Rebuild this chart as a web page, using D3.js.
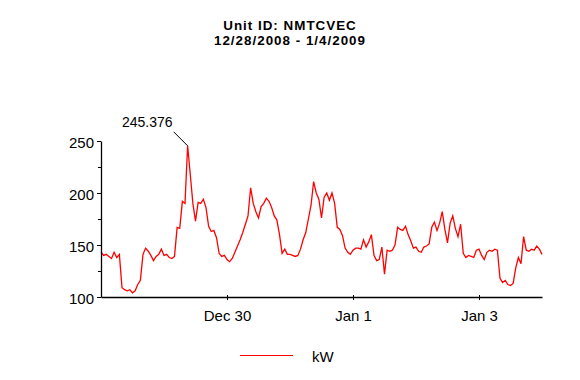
<!DOCTYPE html>
<html>
<head>
<meta charset="utf-8">
<script src="https://cdn.jsdelivr.net/npm/d3@7"></script>
<style>
  html, body { margin: 0; padding: 0; background: #ffffff; }
  svg { display: block; font-family: "Liberation Sans", Arial, sans-serif; }
</style>
</head>
<body>
<svg id="chart" width="580" height="380"></svg>
<script>
// ---- data ----
const titleLines = ["Unit ID: NMTCVEC", "12/28/2008 - 1/4/2009"];
const seriesName = "kW";
const startTime = new Date(2008, 11, 28, 0, 0);   // first reading
const endTime = new Date(2009, 0, 4, 0, 0);       // axis end
const stepHours = 1;                              // one reading per hour
// hourly kW readings, Dec 28 00:00 .. Jan 4 00:00
const kwValues = [
  143,140,141,139,137,143,138,141,109,107,106,107,104,106,112,116,141,147,144,140,135,139,141,146,
  140,141,138,137,139,167,166,192,190,245.376,218,190,173,191,190,194,186,168,163,164,157,142,139,140,
  136,134,137,143,149,155,162,170,178,205,190,182,176,187,190,195,192,186,178,174,160,142,146,141,
  141,140,139,140,146,155,162,175,188,211,200,194,176,196,200,193,200,190,167,165,159,147,143,141,
  145,147,147,146,155,148,153,160,140,135,136,148,122,145,144,145,150,167,165,164,168,160,154,147,
  148,144,143,148,149,151,167,172,164,171,182,165,152,171,178,166,158,170,142,138,140,139,138,145,
  146,140,136,143,145,144,146,145,118,114,116,112,111,113,128,138,132,158,145,144,146,145,149,146,
  141
];
const yMajorTicks = [100, 150, 200, 250];
const yMinorTicks = [125, 175, 225];
const xTickDates = [new Date(2008, 11, 30), new Date(2009, 0, 1), new Date(2009, 0, 3)];
const xTickLabels = ["Dec 30", "Jan 1", "Jan 3"];

const points = kwValues.map((v, i) => ({
  t: new Date(startTime.getTime() + i * stepHours * 3600000),
  v: v
}));

// ---- layout ----
const svg = d3.select("#chart");
const x = d3.scaleTime().domain([startTime, endTime]).range([101, 542]);
const y = d3.scaleLinear().domain([100, 250]).range([297, 141]);

// title
svg.append("g").selectAll("text").data(titleLines).enter().append("text")
  .attr("x", 290).attr("y", (d, i) => 29.5 + i * 15)
  .attr("text-anchor", "middle")
  .style("font-size", "13.4px").style("font-weight", "bold").style("fill", "#000")
  .style("letter-spacing", "1px")
  .text(d => d);

// line
const line = d3.line().x(d => x(d.t)).y(d => y(d.v));
svg.append("path").datum(points)
  .attr("d", line)
  .attr("fill", "none")
  .attr("stroke", "#ff0000")
  .attr("stroke-width", 1.3)
  .attr("stroke-linejoin", "miter");

// y axis
const yAxis = d3.axisLeft(y).tickValues(yMajorTicks).tickFormat(d3.format("d"))
  .tickSizeInner(4).tickSizeOuter(0).tickPadding(3);
const gy = svg.append("g").attr("transform", "translate(101,0)").call(yAxis);
gy.select(".domain").attr("stroke", "#000").attr("stroke-width", 1.3);
gy.selectAll(".tick text").style("font-size", "15px").style("fill", "#000")
  .style("font-family", "'Liberation Sans', Arial, sans-serif").attr("dy", "0.42em");
gy.selectAll(".tick line").attr("stroke", "#000");
gy.selectAll(".minor").data(yMinorTicks).enter().append("line")
  .attr("class", "minor")
  .attr("x1", -3).attr("x2", 0)
  .attr("y1", d => y(d) + 0.5).attr("y2", d => y(d) + 0.5)
  .attr("stroke", "#000");

// x axis
const xAxis = d3.axisBottom(x).tickValues(xTickDates)
  .tickFormat((d, i) => xTickLabels[i])
  .tickSizeInner(3).tickSizeOuter(0).tickPadding(10);
const gx = svg.append("g").attr("transform", "translate(0,297)").call(xAxis);
gx.select(".domain").attr("stroke", "#000").attr("stroke-width", 1.3);
gx.selectAll(".tick line").attr("stroke", "#000").attr("y1", -2).attr("y2", 3);
gx.selectAll(".tick text").style("font-size", "15px").style("fill", "#000")
  .style("font-family", "'Liberation Sans', Arial, sans-serif");

// peak annotation
const peak = points.reduce((a, b) => (b.v > a.v ? b : a));
const px = x(peak.t), py = y(peak.v);
svg.append("line")
  .attr("x1", px - 14).attr("y1", py - 14).attr("x2", px).attr("y2", py)
  .attr("stroke", "#000").attr("stroke-width", 1);
svg.append("text")
  .attr("x", px - 15).attr("y", py - 19)
  .attr("text-anchor", "end")
  .style("font-size", "14px").style("fill", "#000")
  .text(d3.format(".3f")(peak.v));

// legend
const lg = svg.append("g");
lg.append("line").attr("x1", 240).attr("x2", 293).attr("y1", 355.5).attr("y2", 355.5)
  .attr("stroke", "#ff0000").attr("stroke-width", 1);
lg.append("text").attr("x", 312).attr("y", 362)
  .style("font-size", "15px").style("fill", "#000").text(seriesName);
</script>
</body>
</html>
